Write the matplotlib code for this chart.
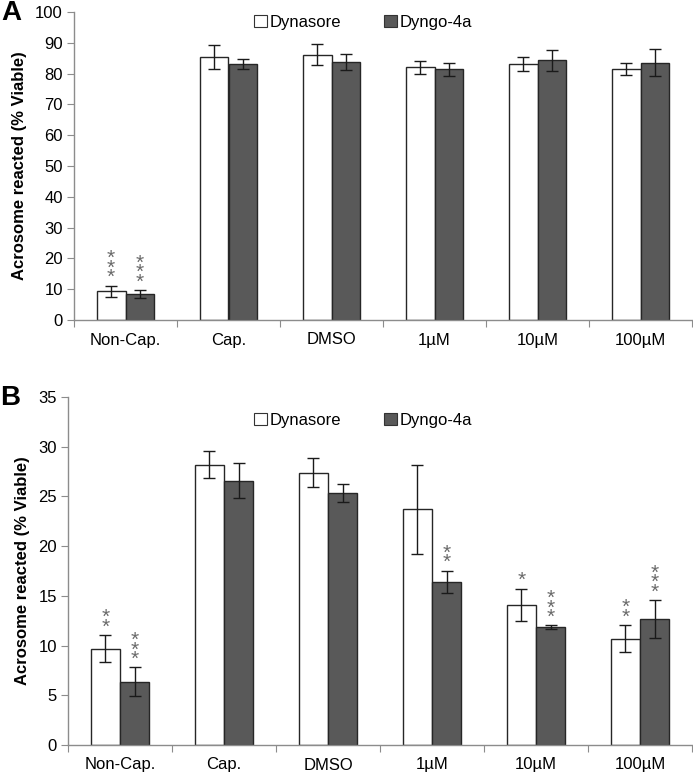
import matplotlib
matplotlib.use("Agg")
import matplotlib.pyplot as plt
from matplotlib.patches import Patch
import numpy as np

plt.rcParams['font.family'] = ['Liberation Sans', 'DejaVu Sans']

categories = ["Non-Cap.", "Cap.", "DMSO", "1\u00b5M", "10\u00b5M", "100\u00b5M"]
series_names = ["Dynasore", "Dyngo-4a"]

a_dynasore = [9.4, 85.4, 86.2, 82.1, 83.1, 81.4]
a_dynasore_err = [1.8, 3.9, 3.5, 2.1, 2.3, 1.9]
a_dyngo = [8.4, 83.2, 83.8, 81.4, 84.4, 83.6]
a_dyngo_err = [1.3, 1.7, 2.7, 2.2, 3.4, 4.3]
a_dynasore_sig = ["***", "", "", "", "", ""]
a_dyngo_sig = ["***", "", "", "", "", ""]

b_dynasore = [9.7, 28.2, 27.4, 23.7, 14.1, 10.7]
b_dynasore_err = [1.35, 1.37, 1.45, 4.5, 1.6, 1.35]
b_dyngo = [6.35, 26.6, 25.35, 16.4, 11.85, 12.65]
b_dyngo_err = [1.45, 1.8, 0.87, 1.15, 0.17, 1.93]
b_dynasore_sig = ["**", "", "", "", "*", "**"]
b_dyngo_sig = ["***", "", "", "**", "***", "***"]

W, H = 693, 773
fig = plt.figure(figsize=(W / 100, H / 100), dpi=100)

SPINE = "#8c8c8c"
DARK = "#595959"
EDGE = "#262626"
STAR = "#6a6a6a"


def panel(rect, d1, e1, d2, e2, s1, s2, ymax, ystep, label, label_xy, leg_y):
    ax = fig.add_axes(rect)
    n = len(categories)
    x = np.arange(n) + 0.5
    bw = 0.28
    ax.bar(x - bw / 2, d1, bw, color="white", edgecolor=EDGE, linewidth=1.0, zorder=2)
    ax.bar(x + bw / 2, d2, bw, color=DARK, edgecolor=EDGE, linewidth=1.0, zorder=2)
    ax.errorbar(x - bw / 2, d1, yerr=e1, fmt="none", ecolor="#1a1a1a", elinewidth=1.0,
                capsize=4, capthick=1.0, zorder=3)
    ax.errorbar(x + bw / 2, d2, yerr=e2, fmt="none", ecolor="#1a1a1a", elinewidth=1.0,
                capsize=4, capthick=1.0, zorder=3)
    for xs, vals, errs, sigs in ((x - bw / 2, d1, e1, s1), (x + bw / 2, d2, e2, s2)):
        for xi, v, er, sg in zip(xs, vals, errs, sigs):
            if sg:
                ax.annotate("\n".join(sg), (xi, v + er), xytext=(0, -1),
                            textcoords="offset points", ha="center", va="bottom",
                            fontsize=15, linespacing=0.36, color=STAR, zorder=4)
    ax.set_xlim(0, n)
    ax.set_ylim(0, ymax)
    ax.set_yticks(np.arange(0, ymax + 0.1, ystep))
    ax.set_xticks(np.arange(0, n + 1))
    ax.set_xticklabels([])
    ax.set_xticks(x, minor=True)
    ax.set_xticklabels(categories, minor=True)
    ax.tick_params(axis="x", which="minor", length=0, pad=9, labelsize=12)
    ax.tick_params(axis="x", which="major", length=5, color=SPINE, direction="out")
    ax.tick_params(axis="y", length=5, color=SPINE, labelsize=12, pad=3)
    for sp in ("top", "right"):
        ax.spines[sp].set_visible(False)
    for sp in ("left", "bottom"):
        ax.spines[sp].set_color(SPINE)
        ax.spines[sp].set_linewidth(1.0)
    ax.set_ylabel("Acrosome reacted (% Viable)", fontsize=12, fontweight="bold", labelpad=6)
    fig.text(label_xy[0], label_xy[1], label, fontsize=20, fontweight="bold",
             ha="left", va="top")
    handles = [Patch(facecolor="white", edgecolor="#333333", linewidth=0.8),
               Patch(facecolor=DARK, edgecolor="#333333", linewidth=0.8)]
    ax.legend(handles, series_names, ncol=2, frameon=False, fontsize=12,
              loc="center", bbox_to_anchor=(0.524, leg_y), bbox_transform=fig.transFigure,
              handlelength=0.75, handleheight=0.75, handletextpad=0.15, columnspacing=2.6)
    return ax


panel([74 / W, 1 - 320 / H, 618 / W, 308 / H], a_dynasore, a_dynasore_err, a_dyngo,
      a_dyngo_err, a_dynasore_sig, a_dyngo_sig, 100, 10, "A", (1 / W, 1 - 0 / H), 1 - 22 / H)
panel([68 / W, 1 - 745 / H, 624 / W, 348 / H], b_dynasore, b_dynasore_err, b_dyngo,
      b_dyngo_err, b_dynasore_sig, b_dyngo_sig, 35, 5, "B", (0 / W, 1 - 385 / H), 1 - 420 / H)

fig.savefig("out.png", dpi=100)
